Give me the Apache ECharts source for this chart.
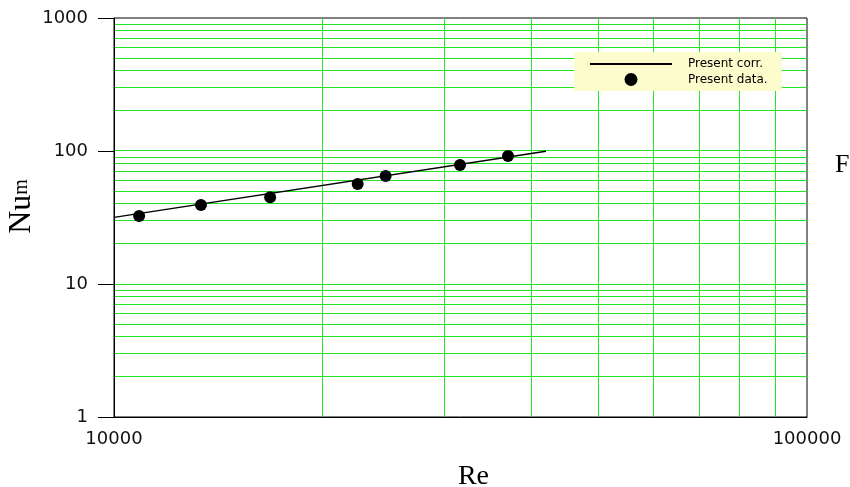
<!DOCTYPE html>
<html>
<head>
<meta charset="utf-8">
<script src="https://cdn.jsdelivr.net/npm/echarts@6/dist/echarts.min.js"></script>
<style>html,body{margin:0;padding:0;background:#fff;}#c{width:850px;height:487px;}</style>
</head>
<body>
<div id="c"></div>
<script>
// Measured data (Re, Nu_m)
var dataRe = [10870, 13350, 16800, 22470, 24660, 31570, 37030];
var dataNu = [32.4, 39.3, 44.9, 56.5, 64.9, 78.5, 91.7];
// Correlation line endpoints
var corrRe = [10000, 42000];
var corrNu = [31.7, 99.5];
// Axis ranges
var xRange = [10000, 100000];
var yRange = [1, 1000];
var seriesNames = ['Present corr.', 'Present data.'];

var GREEN = '#22e622';
var hGrid = [];
[1, 10, 100].forEach(function (d) {
  for (var k = 2; k <= 10; k++) { if (d * k < 1000) hGrid.push([xRange[0], d * k]); }
});
var vGrid = [];
for (var k = 2; k <= 9; k++) vGrid.push([10000 * k, yRange[0]]);

function crisp(v) { return Math.round(v - 0.5) + 0.5; }

var chart = echarts.init(document.getElementById('c'));
chart.setOption({
  animation: false,
  backgroundColor: '#fff',
  grid: { left: 114, top: 18, right: 43, bottom: 70, containLabel: false, outerBoundsMode: 'none',
    show: true, borderColor: '#000', borderWidth: 1, backgroundColor: 'transparent' },
  legend: {
    orient: 'vertical', left: 574, top: 52,
    backgroundColor: '#fdfccc', borderWidth: 0,
    padding: [6, 14, 5, 15], itemGap: 3,
    itemWidth: 82, itemHeight: 13,
    textStyle: { fontFamily: 'DejaVu Sans', fontSize: 12, color: '#000', padding: [0, 0, 0, 11] },
    data: [
      { name: seriesNames[0], itemStyle: { opacity: 0 } },
      { name: seriesNames[1], icon: 'circle' }
    ]
  },
  xAxis: {
    type: 'log', logBase: 10, min: xRange[0], max: xRange[1],
    axisLine: { show: true, lineStyle: { color: '#000', width: 1 } },
    axisTick: { show: false }, splitLine: { show: false }, minorTick: { show: false }, minorSplitLine: { show: false },
    axisLabel: { fontFamily: 'DejaVu Sans', fontSize: 18, color: '#111', margin: 13,
      formatter: function (v) { return String(Math.round(v)); } },
    name: 'Re', nameLocation: 'middle', nameGap: 46, nameMoveOverlap: false,
    nameTextStyle: { fontFamily: 'Liberation Serif', fontSize: 28, color: '#000', padding: [0, 0, 0, 26] }
  },
  yAxis: {
    type: 'log', logBase: 10, min: yRange[0], max: yRange[1],
    axisLine: { show: true, lineStyle: { color: '#000', width: 1 } },
    axisTick: { show: true, length: 16, inside: false, lineStyle: { color: '#000' } },
    splitLine: { show: false }, minorTick: { show: false }, minorSplitLine: { show: false },
    axisLabel: { fontFamily: 'DejaVu Sans', fontSize: 18, color: '#111', margin: 26,
      formatter: function (v) { return String(Math.round(v)); } },
    name: '{a|Nu}{b|m}', nameLocation: 'middle', nameRotate: 90, nameGap: 76, nameMoveOverlap: false,
    nameTextStyle: {
      fontFamily: 'Liberation Serif', color: '#000', padding: [0, 0, 0, 22],
      rich: { a: { fontFamily: 'Liberation Serif', fontSize: 32, color: '#000' }, b: { fontFamily: 'Liberation Serif', fontSize: 20, color: '#000' } }
    }
  },
  graphic: [{
    type: 'text', left: 835, top: 152, silent: true,
    style: { text: 'F', font: '26px "Liberation Serif"', fill: '#000' }
  }],
  series: [
    {
      name: 'hgrid', type: 'custom', z: 1, silent: true, clip: false,
      encode: { x: 0, y: 1 },
      renderItem: function (params, api) {
        var a = api.coord([xRange[0], api.value(1)]);
        var b = api.coord([xRange[1], api.value(1)]);
        var y = crisp(a[1]);
        return { type: 'line', shape: { x1: a[0] + 1, y1: y, x2: b[0], y2: y }, style: { stroke: GREEN, lineWidth: 1 } };
      },
      data: hGrid
    },
    {
      name: 'vgrid', type: 'custom', z: 1, silent: true, clip: false,
      encode: { x: 0, y: 1 },
      renderItem: function (params, api) {
        var a = api.coord([api.value(0), yRange[0]]);
        var b = api.coord([api.value(0), yRange[1]]);
        var x = crisp(a[0]);
        return { type: 'line', shape: { x1: x, y1: a[1], x2: x, y2: b[1] }, style: { stroke: GREEN, lineWidth: 1 } };
      },
      data: vGrid
    },
    {
      name: seriesNames[0], type: 'line', z: 3, symbol: 'none',
      lineStyle: { color: '#000', width: 1.4 }, itemStyle: { color: '#000' },
      data: corrRe.map(function (r, i) { return [r, corrNu[i]]; })
    },
    {
      name: seriesNames[1], type: 'scatter', z: 4, symbol: 'circle', symbolSize: 12,
      itemStyle: { color: '#000', opacity: 1 },
      data: dataRe.map(function (r, i) { return [r, dataNu[i]]; })
    }
  ]
});
</script>
</body>
</html>
